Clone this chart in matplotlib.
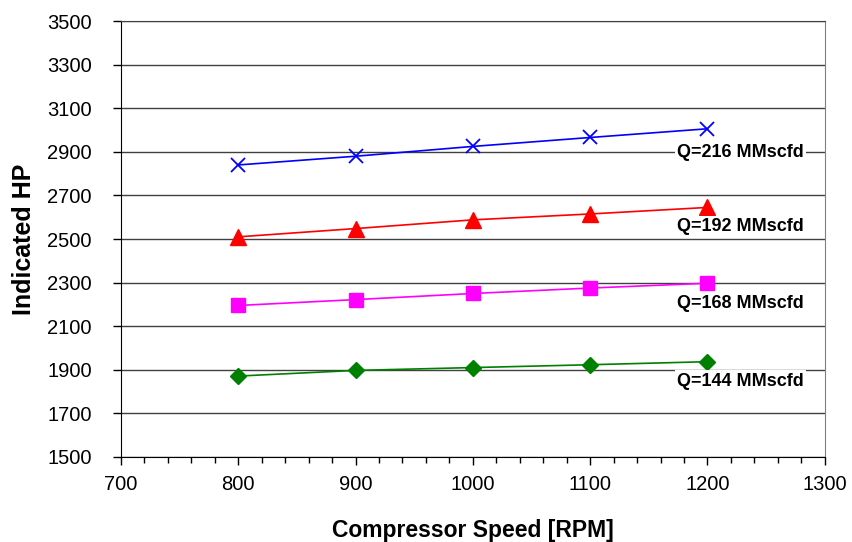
import matplotlib.pyplot as plt
from matplotlib.ticker import MultipleLocator

plt.rcParams['font.family'] = ['Liberation Sans', 'DejaVu Sans']

# data
speed = [800, 900, 1000, 1100, 1200]
hp_216 = [2840, 2880, 2925, 2966, 3006]
hp_192 = [2510, 2548, 2588, 2615, 2645]
hp_168 = [2195, 2222, 2250, 2275, 2297]
hp_144 = [1871, 1897, 1910, 1923, 1937]
labels = ['Q=216 MMscfd', 'Q=192 MMscfd', 'Q=168 MMscfd', 'Q=144 MMscfd']
label_y = [2899, 2556, 2205, 1848]
y_ticks = list(range(1500, 3501, 200))

fig = plt.figure(figsize=(8.52, 5.42), dpi=100)
ax = fig.add_axes([0.142, 0.157, 0.826, 0.804])

ax.plot(speed, hp_216, color='#0000FF', lw=1.2, marker='x', ms=10, mew=1.3, zorder=3)
ax.plot(speed, hp_192, color='#FF0000', lw=1.2, marker='^', ms=11, zorder=3)
ax.plot(speed, hp_168, color='#FF00FF', lw=1.2, marker='s', ms=10, zorder=3)
ax.plot(speed, hp_144, color='#008000', lw=1.2, marker='D', ms=8, zorder=3)

for txt, yv in zip(labels, label_y):
    ax.text(1228, yv, txt, ha='center', va='center', fontsize=13, fontweight='bold',
            bbox=dict(facecolor='white', edgecolor='none', pad=1.5), zorder=4)

ax.set_xlim(700, 1300)
ax.set_ylim(1500, 3500)
ax.set_yticks(y_ticks)
ax.xaxis.set_major_locator(MultipleLocator(100))
ax.xaxis.set_minor_locator(MultipleLocator(20))

ax.grid(axis='y', color='#404040', lw=1.0, zorder=1)
ax.tick_params(axis='both', which='major', direction='out', length=6, width=1,
               labelsize=14.5)
ax.tick_params(axis='y', which='major', pad=15)
ax.tick_params(axis='x', which='major', pad=7)
ax.tick_params(axis='x', which='minor', direction='out', length=4, width=1)

ax.spines['top'].set_color('#404040')
ax.spines['right'].set_color('#808080')

ax.set_xlabel('Compressor Speed [RPM]', fontsize=16.5, fontweight='bold', labelpad=18)
ax.set_ylabel('Indicated HP', fontsize=18, fontweight='bold', labelpad=8)

plt.savefig('out.png', dpi=100)
